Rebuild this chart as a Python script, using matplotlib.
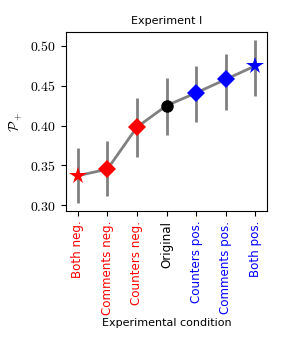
import matplotlib
matplotlib.use("Agg")
import matplotlib.pyplot as plt

plt.rcParams['mathtext.fontset'] = 'cm'
plt.rcParams['font.family'] = ['DejaVu Sans']

conditions = ["Both neg.", "Comments neg.", "Counters neg.", "Original",
              "Counters pos.", "Comments pos.", "Both pos."]
values = [0.337, 0.345, 0.398, 0.425, 0.441, 0.458, 0.475]
lower = [0.302, 0.311, 0.361, 0.388, 0.405, 0.420, 0.437]
upper = [0.372, 0.380, 0.435, 0.460, 0.475, 0.490, 0.508]
colors = ["red", "red", "red", "black", "blue", "blue", "blue"]
markers = ["*", "D", "D", "o", "D", "D", "*"]
msizes = [13, 9, 9, 9, 9, 9, 13]

fig = plt.figure(figsize=(2.91, 3.39), dpi=100)
ax = fig.add_axes([66/291, 1-211/339, 201/291, 179/339])

x = list(range(len(values)))
yerr = [[v - l for v, l in zip(values, lower)], [u - v for u, v in zip(upper, values)]]
ax.errorbar(x, values, yerr=yerr, fmt='none', ecolor='grey', elinewidth=2, capsize=0, zorder=1)
ax.plot(x, values, color='grey', lw=2, zorder=2)
for xi, v, c, m, s in zip(x, values, colors, markers, msizes):
    ax.plot(xi, v, marker=m, color=c, markersize=s, markeredgewidth=0, zorder=3, linestyle='none')

ax.set_xlim(-0.4, 6.4)
ax.set_ylim(0.2925, 0.5176)
yt = [0.30, 0.35, 0.40, 0.45, 0.50]
ax.set_yticks(yt)
ax.set_yticklabels([f"${t:.2f}$" for t in yt], fontsize=10)
ax.set_xticks(x)
ax.set_xticklabels(conditions, rotation=90, fontsize=8.6)
for lbl, c in zip(ax.get_xticklabels(), colors):
    lbl.set_color(c)
ax.set_ylabel(r"$\mathcal{P}_+$", fontsize=10)
ax.set_xlabel("Experimental condition", fontsize=8, labelpad=2)
ax.set_title("Experiment I", fontsize=8)

fig.savefig("out.png", dpi=100)
